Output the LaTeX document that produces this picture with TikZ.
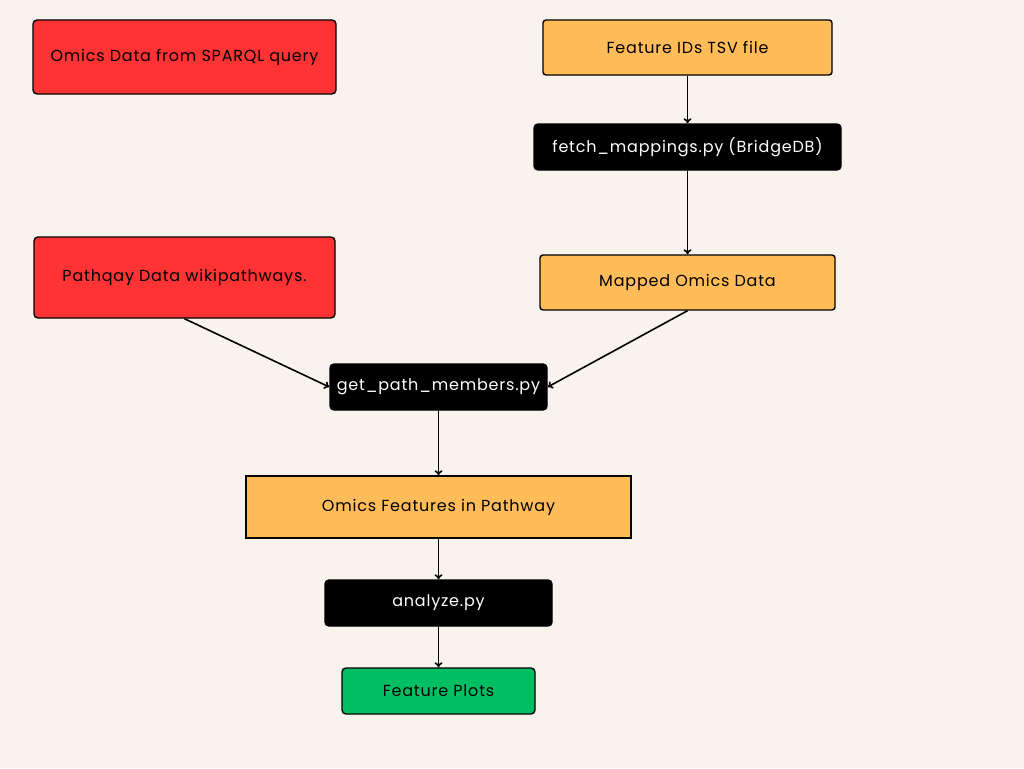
\documentclass[tikz,border=0pt]{standalone}
\usepackage{fontspec}
\setmainfont{Poppins}[LetterSpace=5]
\usetikzlibrary{arrows.meta,positioning}
\definecolor{bg}{RGB}{248,243,236}
\definecolor{redbox}{RGB}{255,51,51}
\definecolor{orangebox}{RGB}{255,188,88}
\definecolor{greenbox}{RGB}{0,191,99}
\begin{document}
\begin{tikzpicture}[x=1pt,y=-1pt,
  box/.style={draw=black,line width=1.4pt,inner sep=0pt,font=\fontsize{16}{18}\selectfont,text=black},
  redstyle/.style={box,fill=redbox,rounded corners=4pt},
  orangestyle/.style={box,fill=orangebox,rounded corners=3pt},
  sqstyle/.style={box,fill=orangebox},
  blackstyle/.style={box,fill=black,text=white,rounded corners=4pt},
  greenstyle/.style={box,fill=greenbox,rounded corners=4pt},
  conn/.style={line width=1.6pt,-{To[length=5pt,width=8pt]}}]
\fill[bg] (0,0) rectangle (1024,768);
\useasboundingbox (0,0) rectangle (1024,768);
\node[redstyle,minimum width=303pt,minimum height=74pt] (sparql) at (184.5,57) {\raisebox{-1pt}{Omics Data from SPARQL query}};
\node[orangestyle,minimum width=289pt,minimum height=55pt] (tsv) at (687.5,47.5) {\raisebox{-1pt}{Feature IDs TSV file}};
\node[blackstyle,minimum width=307pt,minimum height=46pt] (fetch) at (687.5,147) {\raisebox{-1pt}{fetch\_mappings.py (BridgeDB)}};
\node[redstyle,minimum width=301pt,minimum height=81pt] (pathqay) at (184.5,277.5) {\raisebox{-1pt}{Pathqay Data wikipathways.}};
\node[orangestyle,minimum width=295pt,minimum height=55pt] (mapped) at (687.5,282.5) {\raisebox{-1pt}{Mapped Omics Data}};
\node[blackstyle,minimum width=217pt,minimum height=46pt] (getpath) at (438.5,387) {\raisebox{-1pt}{get\_path\_members.py}};
\node[sqstyle,minimum width=385pt,minimum height=62pt] (features) at (438.5,507) {\raisebox{-1pt}{Omics Features in Pathway}};
\node[blackstyle,minimum width=227pt,minimum height=46pt] (analyze) at (438.5,603) {\raisebox{-1pt}{analyze.py}};
\node[greenstyle,minimum width=193pt,minimum height=46pt] (plots) at (438.5,691) {\raisebox{-1pt}{Feature Plots}};
\draw[conn] (tsv.south) -- (fetch.north);
\draw[conn] (fetch.south) -- (mapped.north);
\draw[conn] (pathqay.south) -- (getpath.west);
\draw[conn] (mapped.south) -- (getpath.east);
\draw[conn] (getpath.south) -- (features.north);
\draw[conn] (features.south) -- (analyze.north);
\draw[conn] (analyze.south) -- (plots.north);
\end{tikzpicture}
\end{document}
